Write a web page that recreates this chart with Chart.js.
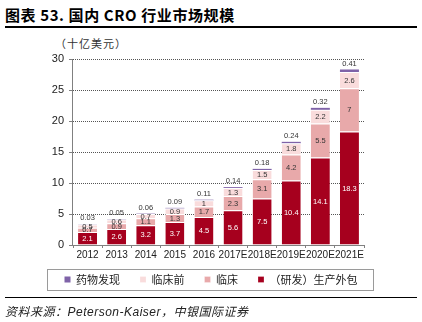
<!DOCTYPE html>
<html>
<head>
<meta charset="utf-8">
<script src="https://cdn.jsdelivr.net/npm/chart.js@4.4.0/dist/chart.umd.min.js"></script>
<style>
  body { margin: 0; width: 422px; height: 322px; background: #fff; position: relative; overflow: hidden; font-family: "Liberation Sans", "Noto Sans CJK SC", sans-serif; }
  #wrap { position: absolute; left: 0; top: 0; width: 422px; height: 322px; }
  .title { position: absolute; left: 5px; top: 4px; font: bold 15px "Noto Sans CJK SC", sans-serif; letter-spacing: 0.6px; color: #000; white-space: nowrap; }
  .rule { position: absolute; left: 5px; width: 412px; background: #000; }
  .unit { position: absolute; left: 55px; top: 35px; font: 11px "Noto Sans CJK SC", sans-serif; color: #333; letter-spacing: 1px; }
  .source { position: absolute; left: 5px; top: 302px; font: italic 12px "Liberation Sans", "Noto Sans CJK SC", sans-serif; letter-spacing: 0.5px; color: #222; white-space: nowrap; }
</style>
</head>
<body>
<div class="title">图表 53. 国内 CRO 行业市场规模</div>
<div class="rule" style="top:26px;height:2px"></div>
<div class="unit">（十亿美元）</div>
<div id="wrap"><canvas id="cro"></canvas></div>
<div class="rule" style="top:297px;height:1px"></div>
<div class="source">资料来源：Peterson-Kaiser，中银国际证券</div>

<script>
const years = ['2012', '2013', '2014', '2015', '2016', '2017E', '2018E', '2019E', '2020E', '2021E'];

// 十亿美元
const outsourcing = [2.1, 2.6, 3.2, 3.7, 4.5, 5.6, 7.5, 10.4, 14.1, 18.3];
const clinical = [0.7, 0.9, 1.1, 1.3, 1.7, 2.3, 3.1, 4.2, 5.5, 7];
const preclinical = [0.5, 0.6, 0.7, 0.9, 1, 1.3, 1.5, 1.8, 2.2, 2.6];
const discovery = [0.03, 0.05, 0.06, 0.09, 0.11, 0.14, 0.18, 0.24, 0.32, 0.41];

const yTicks = [0, 5, 10, 15, 20, 25, 30];

// segment labels, drawn from each bar element's own geometry
const barLabels = {
  id: 'barLabels',
  afterDatasetsDraw(chart) {
    const ctx = chart.ctx;
    ctx.save();
    ctx.font = '7.5px "Liberation Sans", Arial, sans-serif';
    ctx.textAlign = 'center';
    ctx.textBaseline = 'middle';
    chart.data.datasets.forEach((ds, i) => {
      const meta = chart.getDatasetMeta(i);
      meta.data.forEach((bar, j) => {
        const v = ds.data[j];
        if (ds.labelOnTop) {
          ctx.fillStyle = '#333';
          ctx.fillText(String(v), bar.x, bar.y - 6);
        } else {
          ctx.fillStyle = ds.labelColor;
          ctx.fillText(String(v), bar.x, (bar.y + bar.base) / 2 + 0.5);
        }
      });
    });
    ctx.restore();
  }
};

// pull the legend row a little closer to the axis labels
const legendNudge = {
  id: 'legendNudge',
  afterLayout(chart) {
    chart.legend.top -= 7;
    chart.legend.bottom -= 7;
  }
};

// frame around the legend row
const legendFrame = {
  id: 'legendFrame',
  afterDraw(chart) {
    const boxes = chart.legend.legendHitBoxes;
    if (!boxes.length) return;
    const left = Math.min(...boxes.map(b => b.left)) - 18;
    const right = Math.max(...boxes.map(b => b.left + b.width)) + 15;
    const top = boxes[0].top - 5;
    const bottom = boxes[0].top + boxes[0].height + 5;
    const ctx = chart.ctx;
    ctx.save();
    ctx.strokeStyle = '#9a9a9a';
    ctx.lineWidth = 1;
    ctx.strokeRect(Math.round(left) + 0.5, Math.round(top) + 0.5, Math.round(right - left), Math.round(bottom - top));
    ctx.restore();
  }
};

// y axis line drawn solid, since border.dash styles the grid lines
const solidYAxis = {
  id: 'solidYAxis',
  afterDraw(chart) {
    const a = chart.chartArea;
    const ctx = chart.ctx;
    ctx.save();
    ctx.strokeStyle = '#808080';
    ctx.lineWidth = 1;
    ctx.beginPath();
    ctx.moveTo(Math.round(a.left) - 0.5, a.top);
    ctx.lineTo(Math.round(a.left) - 0.5, a.bottom);
    ctx.stroke();
    ctx.restore();
  }
};

const ctx = document.getElementById('cro').getContext('2d');
new Chart(ctx, {
  type: 'bar',
  data: {
    labels: years,
    datasets: [
      {
        label: '（研发）生产外包',
        data: outsourcing,
        backgroundColor: '#a6001e',
        borderColor: '#ffffff',
        borderWidth: { top: 1 },
        borderSkipped: false,
        labelColor: '#ffffff'
      },
      {
        label: '临床',
        data: clinical,
        backgroundColor: '#e8a9aa',
        borderColor: '#ffffff',
        borderWidth: { top: 1 },
        borderSkipped: false,
        labelColor: '#333333'
      },
      {
        label: '临床前',
        data: preclinical,
        backgroundColor: '#f9dcdc',
        borderColor: '#ffffff',
        borderWidth: { top: 1 },
        borderSkipped: false,
        labelColor: '#333333'
      },
      {
        label: '药物发现',
        data: discovery,
        backgroundColor: '#7f63a8',
        borderWidth: 0,
        labelOnTop: true
      }
    ]
  },
  options: {
    responsive: true,
    maintainAspectRatio: false,
    animation: false,
    layout: { padding: { left: 0, right: 0, top: 59, bottom: 20 } },
    datasets: { bar: { categoryPercentage: 0.68, barPercentage: 0.96 } },
    plugins: {
      tooltip: { enabled: false },
      legend: {
        position: 'bottom',
        reverse: true,
        labels: {
          boxWidth: 6,
          boxHeight: 6,
          padding: 20,
          color: '#222',
          font: { family: '"Noto Sans CJK SC", sans-serif', size: 11 }
        }
      }
    },
    scales: {
      x: {
        stacked: true,
        afterFit: (s) => { s.height = 16; },
        grid: {
          offset: true,
          drawOnChartArea: false,
          color: '#808080',
          tickLength: 3
        },
        border: { color: '#808080', width: 1 },
        ticks: {
          padding: 1,
          color: '#222',
          maxRotation: 0,
          autoSkip: false,
          font: { family: '"Liberation Sans", Arial, sans-serif', size: 10 }
        }
      },
      y: {
        stacked: true,
        min: 0,
        max: 30,
        afterFit: (s) => { s.width = 73; },
        afterBuildTicks: (s) => { s.ticks = yTicks.map(v => ({ value: v })); },
        grid: {
          color: (c) => c.tick && c.tick.value === 0 ? 'rgba(0,0,0,0)' : '#555',
          tickColor: '#808080',
          tickLength: 4,
          lineWidth: 1
        },
        border: { display: false, dash: [1, 1] },
        ticks: {
          padding: 5,
          color: '#222',
          font: { family: '"Liberation Sans", Arial, sans-serif', size: 11 }
        }
      },
      // empty right-hand axis that only reserves the margin beside the plot
      yRight: {
        position: 'right',
        min: 0,
        max: 30,
        afterFit: (s) => { s.width = 58; },
        grid: { display: false },
        border: { display: false },
        ticks: { display: false }
      }
    }
  },
  plugins: [barLabels, legendNudge, legendFrame, solidYAxis]
});
</script>
</body>
</html>
